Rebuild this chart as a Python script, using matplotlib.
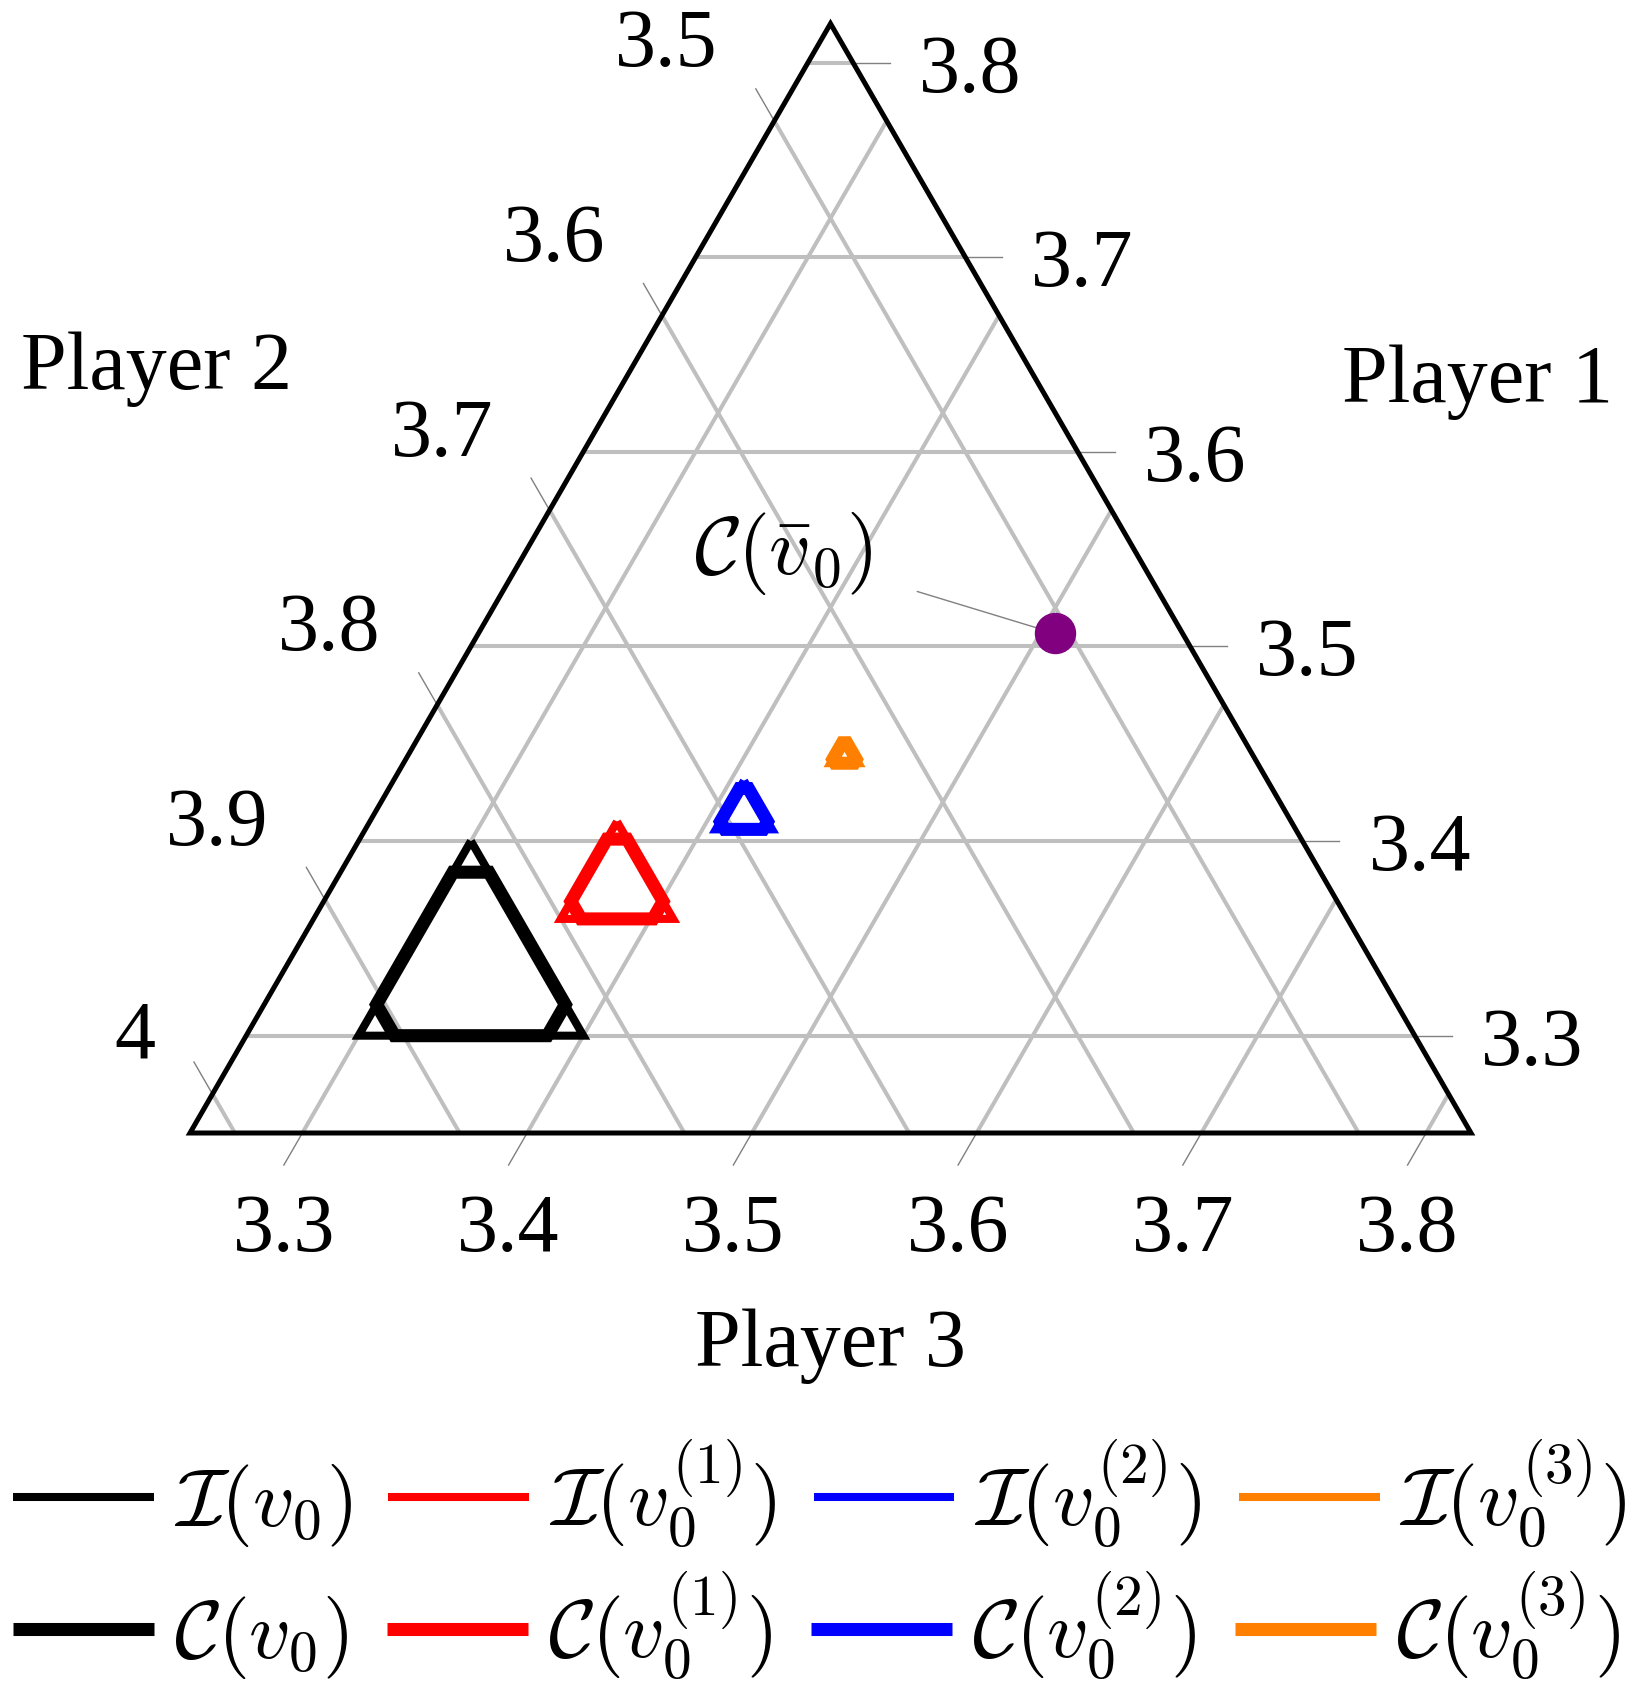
import numpy as np
import matplotlib
matplotlib.use("Agg")
import matplotlib.pyplot as plt
from matplotlib.lines import Line2D

plt.rcParams['font.family'] = ['Liberation Serif', 'DejaVu Serif']
plt.rcParams['mathtext.fontset'] = 'cm'

# ternary axis limits (player 1, player 2, player 3)
p1_min, p2_min, p3_min = 3.25, 3.45, 3.25
span = 0.57

p1_ticks = [3.3, 3.4, 3.5, 3.6, 3.7, 3.8]
p2_ticks = [3.5, 3.6, 3.7, 3.8, 3.9, 4.0]
p3_ticks = [3.3, 3.4, 3.5, 3.6, 3.7, 3.8]
p1_labels = ['3.3', '3.4', '3.5', '3.6', '3.7', '3.8']
p2_labels = ['3.5', '3.6', '3.7', '3.8', '3.9', '4']
p3_labels = ['3.3', '3.4', '3.5', '3.6', '3.7', '3.8']

# imputation sets I(.) : triangle vertices (p1, p2, p3)
I0 = [(3.40, 3.82, 3.30), (3.30, 3.92, 3.30), (3.30, 3.82, 3.40)]
I1 = [(3.41, 3.75, 3.36), (3.36, 3.80, 3.36), (3.36, 3.75, 3.41)]
I2 = [(3.431, 3.683, 3.406), (3.406, 3.708, 3.406), (3.406, 3.683, 3.431)]
I3 = [(3.4525, 3.6275, 3.44), (3.44, 3.64, 3.44), (3.44, 3.6275, 3.4525)]

# cores C(.) : hexagon vertices (p1, p2, p3)
C0 = [(3.384, 3.836, 3.300), (3.384, 3.820, 3.316), (3.316, 3.820, 3.384),
      (3.300, 3.836, 3.384), (3.300, 3.904, 3.316), (3.316, 3.904, 3.300)]
C1 = [(3.401, 3.759, 3.360), (3.401, 3.750, 3.369), (3.369, 3.750, 3.401),
      (3.360, 3.759, 3.401), (3.360, 3.791, 3.369), (3.369, 3.791, 3.360)]
C2 = [(3.427, 3.687, 3.406), (3.427, 3.683, 3.410), (3.410, 3.683, 3.427),
      (3.406, 3.687, 3.427), (3.406, 3.704, 3.410), (3.410, 3.704, 3.406)]
C3 = [(3.4505, 3.6295, 3.440), (3.4505, 3.6275, 3.442), (3.442, 3.6275, 3.4505),
      (3.440, 3.6295, 3.4505), (3.440, 3.638, 3.442), (3.442, 3.638, 3.440)]

# core of the limit game
Cbar = (3.5067, 3.5067, 3.5067)

colors = ['black', '#ff0000', '#0000ff', '#ff8000']
I_labels = [r'$\mathcal{I}(v_0)$', r'$\mathcal{I}(v_0^{(1)})$',
            r'$\mathcal{I}(v_0^{(2)})$', r'$\mathcal{I}(v_0^{(3)})$']
C_labels = [r'$\mathcal{C}(v_0)$', r'$\mathcal{C}(v_0^{(1)})$',
            r'$\mathcal{C}(v_0^{(2)})$', r'$\mathcal{C}(v_0^{(3)})$']

S = p1_min + p2_min + p3_min + span
FS = 59
PX = 0.72  # pixel -> point at dpi 100


def tern(p1, p2, p3):
    a = (p1 - p1_min)
    b = (p2 - p2_min)
    c = (p3 - p3_min)
    tot = a + b + c
    a, c = a / tot, c / tot
    return c + a / 2, a * np.sqrt(3) / 2


def xy(pts):
    arr = np.array([tern(*p) for p in pts])
    return arr[:, 0], arr[:, 1]


fig = plt.figure(figsize=(16.48, 17.02), dpi=100)
ax = fig.add_axes([0, 0, 1, 1])
ax.set_xlim(-190 / 1281, 1458 / 1281)
ax.set_ylim(-569 / 1281, 1133 / 1281)
ax.set_aspect('equal')
ax.axis('off')
renderer = fig.canvas.get_renderer()

grid_kw = dict(color='#bfbfbf', lw=2.9, zorder=1, solid_capstyle='butt')
tick_kw = dict(color='#808080', lw=1.0, zorder=1)
tlen = 37 / 1281

# player 1: horizontal grid, ticks on right edge
for v, lab in zip(p1_ticks, p1_labels):
    left = tern(v, S - v - p3_min, p3_min)
    right = tern(v, p2_min, S - v - p2_min)
    ax.plot([left[0], right[0]], [left[1], right[1]], **grid_kw)
    d = np.subtract(right, left); d = d / np.hypot(*d)
    end = (right[0] + d[0] * tlen, right[1] + d[1] * tlen)
    ax.plot([right[0], end[0]], [right[1], end[1]], **tick_kw)
    ax.annotate(lab, xy=end, xytext=(29 * PX, -29 * PX), textcoords='offset points',
                ha='left', va='baseline', fontsize=FS)

# player 2: grid parallel to right edge, ticks on left edge
for v, lab in zip(p2_ticks, p2_labels):
    left = tern(S - v - p3_min, v, p3_min)
    bottom = tern(p1_min, v, S - v - p1_min)
    ax.plot([left[0], bottom[0]], [left[1], bottom[1]], **grid_kw)
    d = np.subtract(left, bottom); d = d / np.hypot(*d)
    end = (left[0] + d[0] * tlen, left[1] + d[1] * tlen)
    ax.plot([left[0], end[0]], [left[1], end[1]], **tick_kw)
    t = ax.annotate(lab, xy=end, xytext=(0, 0), textcoords='offset points',
                    ha='center', va='baseline', fontsize=FS)
    # label placed outward, normal to the left edge
    w = t.get_window_extent(renderer).width
    dist = 44 + w / 2 / np.cos(np.pi / 6)
    t.xyann = (-np.cos(np.pi / 6) * dist * PX, (0.5 * dist - 29) * PX)

# player 3: grid parallel to left edge, ticks on bottom edge
for v, lab in zip(p3_ticks, p3_labels):
    bottom = tern(p1_min, S - v - p1_min, v)
    right = tern(S - v - p2_min, p2_min, v)
    ax.plot([bottom[0], right[0]], [bottom[1], right[1]], **grid_kw)
    d = np.subtract(bottom, right); d = d / np.hypot(*d)
    end = (bottom[0] + d[0] * tlen, bottom[1] + d[1] * tlen)
    ax.plot([bottom[0], end[0]], [bottom[1], end[1]], **tick_kw)
    ax.annotate(lab, xy=end, xytext=(0, -86 * PX), textcoords='offset points',
                ha='center', va='baseline', fontsize=FS)

# outer triangle
corners = [(p1_min, S - p1_min - p3_min, p3_min),
           (p1_min, p2_min, S - p1_min - p2_min),
           (S - p2_min - p3_min, p2_min, p3_min)]
cx, cy = xy(corners)
ax.fill(cx, cy, fill=False, ec='black', lw=3.6, joinstyle='miter', zorder=2)

ax.text(-0.0258, 0.5964, 'Player 2', ha='center', va='center', fontsize=FS)
ax.text(1.0051, 0.5863, 'Player 1', ha='center', va='center', fontsize=FS)
ax.text(0.5001, -0.1663, 'Player 3', ha='center', va='center', fontsize=FS)

# imputation sets (thin) and cores (thick)
I_handles, C_handles = [], []
for tri, hexa, col in zip([I0, I1, I2, I3], [C0, C1, C2, C3], colors):
    tx, ty = xy(tri + tri[:1])
    ax.plot(tx, ty, color=col, lw=5.8, solid_joinstyle='miter',
            solid_capstyle='butt', zorder=3)
    hx, hy = xy(hexa + hexa[:1])
    ax.fill(hx, hy, fill=False, ec=col, lw=9.4, joinstyle='miter', zorder=4)
    I_handles.append(Line2D([], [], color=col, lw=5.8, solid_capstyle='butt'))
    C_handles.append(Line2D([], [], color=col, lw=9.4, solid_capstyle='butt'))

dx, dy = tern(*Cbar)
ax.plot([dx], [dy], 'o', color='#800080', ms=28.8, zorder=5)
ax.annotate('', xy=(dx, dy), xytext=(-138 * PX, 42 * PX), textcoords='offset points',
            arrowprops=dict(arrowstyle='-', color='#808080', lw=1.0,
                            shrinkA=0, shrinkB=0), zorder=4)
ax.annotate(r'$\mathcal{C}(\bar{v}_0)$', xy=(dx, dy), xytext=(-272 * PX, 80 * PX),
            textcoords='offset points', ha='center', va='center', fontsize=FS)

leg_kw = dict(ncol=4, frameon=False, fontsize=FS, handlelength=1.72,
              handletextpad=0.24, borderpad=0,
              borderaxespad=0, loc='center left', bbox_transform=fig.transFigure)
leg1 = fig.legend(I_handles, I_labels, bbox_to_anchor=(13 / 1648, 1 - 1494 / 1702),
                  columnspacing=0.45, **leg_kw)
leg2 = fig.legend(C_handles, C_labels, bbox_to_anchor=(13 / 1648, 1 - 1626 / 1702),
                  columnspacing=0.48, **leg_kw)

fig.savefig('out.png', dpi=100)
